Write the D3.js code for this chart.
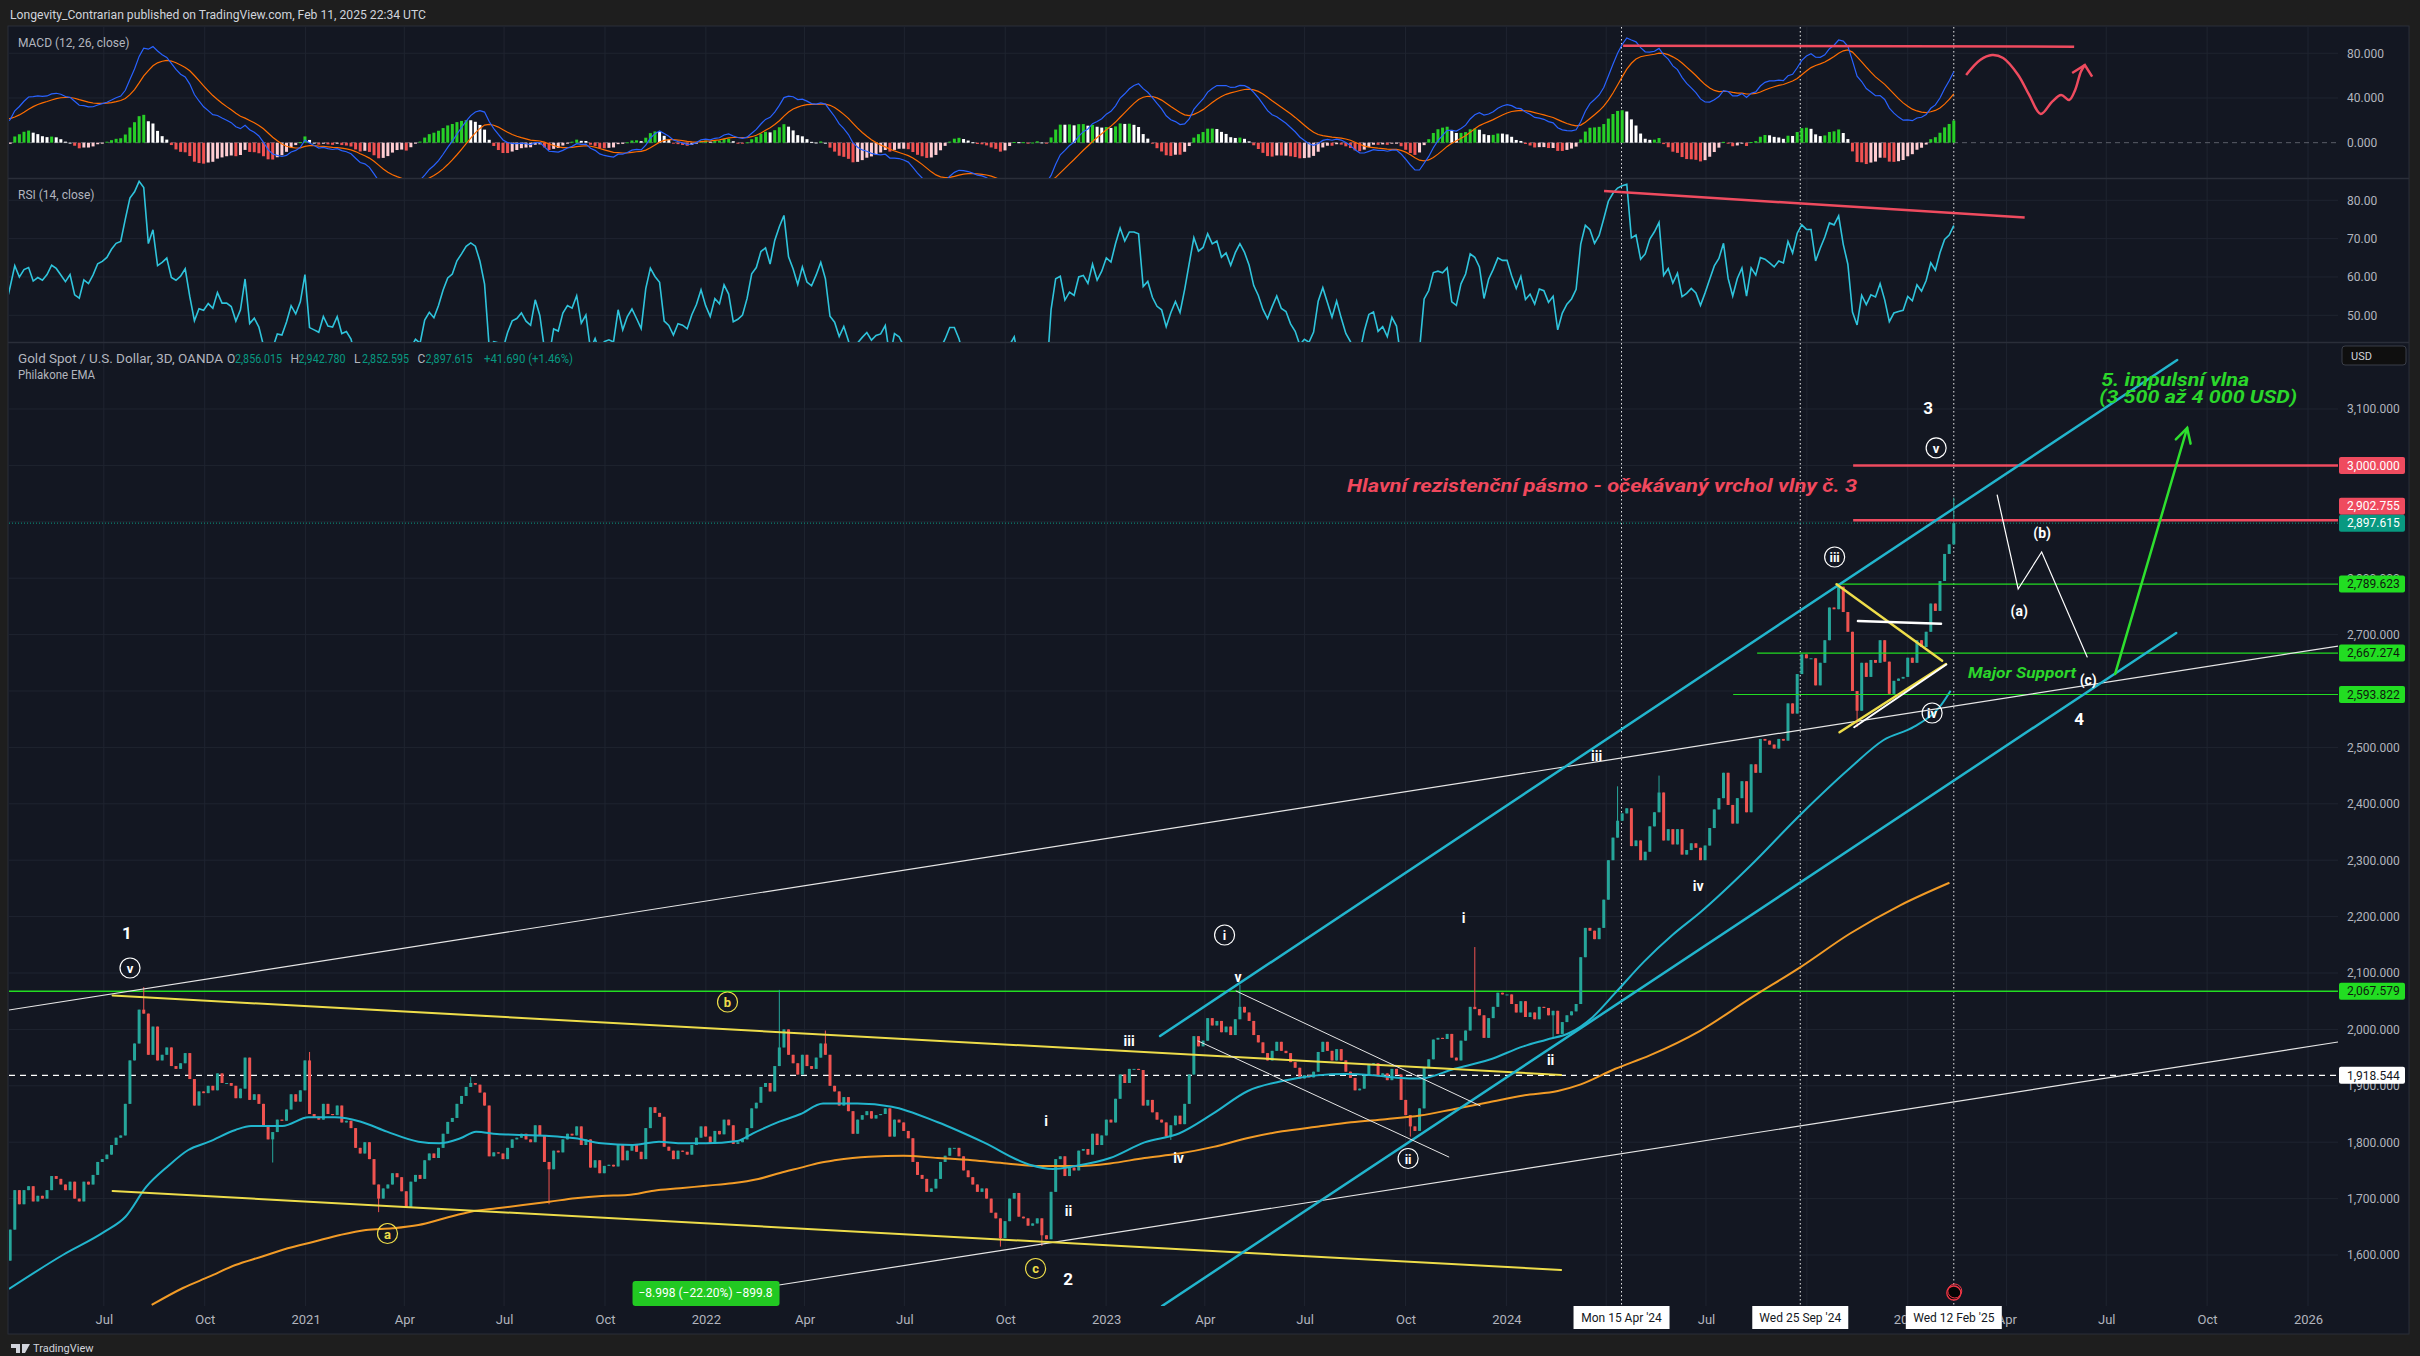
<!DOCTYPE html>
<html>
<head>
<meta charset="utf-8">
<title>XAUUSD 3D</title>
<script src="https://cdn.jsdelivr.net/npm/d3@7"></script>
<style>
  html, body { margin: 0; padding: 0; background: #1e1e1e; }
  svg { display: block; }
  text { font-family: Roboto, "Liberation Sans", sans-serif; }
</style>
</head>
<body>
<div id="chart"></div>
<script>
// ---------- data : XAUUSD 3D closes, one value per bar ----------
const close2019 = [1480,1505,1495,1490,1492,1505,1512, 1510,1462,1468,1470,1472,1460,1462, 1478,1462,1468,1475,1480,1500,1517];
const close2020 = [
  1552,1572,1550,1555,1560,1558,1578,1588,  1575,1568,1580,1600,1645,1640,1585,  1640,1672,1576,1520,1484,1630,1620,
  1590,1645,1715,1690,1715,1722,1695,  1705,1700,1715,1740,1735,1725,1715,1730,  1700,1695,1730,1725,1742,1765,1770,
  1778,1795,1808,1812,1868,1945,1975,  2035,2028,1955,2005,1945,1955,1968,  1935,1930,1940,1958,1912,1865,1890,1887,
  1900,1892,1922,1905,1905,1900,1878,  1895,1950,1875,1885,1868,1830,1805,  1818,1840,1838,1858,1885,1872,1892];
const close2021 = [
  1945,1850,1845,1840,1868,1850,1848,1865,  1835,1838,1825,1790,1780,1800,1770,  1725,1700,1718,1725,1745,1738,1713,
  1685,1730,1742,1735,1768,1780,1772,  1790,1815,1836,1843,1868,1882,1898,1905,  1902,1888,1865,1775,1782,1780,1770,
  1790,1805,1808,1815,1805,1800,1830,  1812,1765,1752,1785,1782,1805,1815,  1812,1828,1795,1805,1755,1768,1745,1758,
  1760,1757,1795,1768,1785,1795,1783,  1770,1825,1862,1852,1845,1792,1785,  1770,1785,1783,1778,1795,1808,1828];
const close2022 = [
  1810,1797,1820,1814,1840,1830,1797,1800,  1805,1825,1860,1870,1898,1905,1890,  1935,1968,2000,1955,1940,1920,1955,
  1935,1930,1950,1975,1955,1900,1890,  1865,1880,1855,1815,1840,1848,1855,1842,  1848,1850,1860,1810,1840,1835,1820,
  1807,1765,1742,1735,1712,1718,1735,  1765,1776,1790,1790,1775,1750,1738,  1725,1712,1718,1700,1675,1665,1630,1660,
  1700,1710,1668,1665,1652,1656,1665,  1635,1628,1712,1770,1775,1740,1755,  1750,1785,1788,1778,1815,1795,1812];
const close2023 = [
  1840,1835,1877,1920,1905,1930,1930,1928,  1865,1875,1853,1840,1835,1810,1830,  1847,1832,1868,1920,1988,1970,1980,
  2020,2007,2015,1995,2005,1990,2018,  2040,2030,2015,1990,1977,1958,1945,1962,  1978,1962,1958,1942,1932,1913,1919,
  1915,1925,1960,1978,1962,1945,1965,  1945,1925,1914,1892,1895,1918,1937,  1940,1917,1922,1910,1930,1920,1875,1848,
  1828,1820,1860,1932,1947,1982,1985,  1983,1992,1950,1945,1980,1998,2040,  2036,2025,1985,2020,2040,2065,2062];
const close2024 = [
  2062,2045,2030,2050,2022,2030,2018,2040,  2038,2025,2033,1992,2013,2025,2032,  2045,2128,2180,2175,2160,2180,2230,
  2300,2340,2370,2383,2392,2325,2335,  2300,2315,2360,2385,2420,2335,2355,2328,  2355,2310,2318,2330,2322,2300,2326,
  2357,2390,2410,2455,2398,2365,2410,  2440,2385,2470,2455,2515,2512,2505,  2498,2515,2512,2578,2560,2630,2665,2658,
  2658,2610,2650,2690,2748,2745,2785,  2740,2705,2600,2565,2650,2625,2655,  2650,2690,2652,2595,2618,2622,2625];
const close2025 = [2659,2650,2690,2678,2705,2755,2742,2795, 2843,2860,2897.615];

const wickHighs = [['2020-08-06',2075],['2021-01-06',1960],['2021-06-01',1916],['2022-03-08',2070],['2022-04-18',1998],
  ['2023-05-04',2079],['2023-12-04',2146],['2024-04-12',2431],['2024-05-20',2450],['2024-10-31',2790],['2025-02-11',2942.78]];
const wickLows = [['2020-11-30',1764],['2021-03-08',1676],['2021-08-09',1690],['2022-09-28',1615],['2022-11-03',1616],
  ['2023-02-28',1804],['2023-10-06',1810],['2024-02-14',1984],['2024-11-14',2536]];

// Philakone EMA lines (decimal year, price)
const emaFast = [[2020.2594,1539.8],[2020.3938,1600.0],[2020.4981,1641.4],[2020.5503,1667.9],[2020.6025,1721.1],[2020.6549,1756.6],
  [2020.7071,1786.2],[2020.7593,1800.9],[2020.8247,1821.7],[2020.8637,1828.7],[2020.9421,1828.7],[2021.0075,1844.2],[2021.0727,1844.2],
  [2021.1381,1836.4],[2021.2032,1818.7],[2021.2816,1801.0],[2021.3338,1798.1],[2021.3863,1806.9],[2021.4255,1818.7],[2021.4777,1814.6],
  [2021.5428,1812.9],[2021.6077,1811.1],[2021.6734,1806.9],[2021.7388,1798.1],[2021.8170,1795.1],[2021.8824,1801.0],[2021.9348,1798.1],
  [2021.9998,1798.1],[2022.0782,1802.2],[2022.1171,1815.8],[2022.1828,1836.4],[2022.2345,1849.5],[2022.2919,1868.5],[2022.3778,1868.5],
  [2022.4637,1863.0],[2022.5785,1835.3],[2022.6931,1799.7],[2022.8077,1760.1],[2022.8652,1752.5],[2022.9223,1757.8],[2023.0085,1772.0],
  [2023.0944,1799.7],[2023.1805,1815.5],[2023.2664,1851.1],[2023.3526,1890.8],[2023.4384,1908.5],[2023.5243,1918.5],[2023.5963,1921.0],
  [2023.6677,1918.5],[2023.7251,1914.4],[2023.7825,1912.8],[2023.8684,1930.2],[2023.9546,1946.1],[2024.0404,1969.9],[2024.0979,1981.8],
  [2024.1550,1993.6],[2024.2125,2021.3],[2024.2699,2064.7],[2024.3416,2120.2],[2024.4132,2167.8],[2024.4816,2207.3],[2024.6065,2289.7],
  [2024.7313,2380.2],[2024.8561,2463.5],[2024.9398,2513.1],[2025.0160,2536.7],[2025.0834,2575.2],[2025.1069,2600.6]];
const emaSlow = [[2020.6157,1511.4],[2020.6939,1541.5],[2020.7593,1561.6],[2020.8247,1582.3],[2020.8899,1597.0],[2020.9553,1611.9],
  [2021.0205,1623.6],[2021.0859,1635.5],[2021.1508,1644.4],[2021.2165,1647.4],[2021.2816,1653.2],[2021.3471,1665.1],[2021.4122,1676.8],
  [2021.4777,1682.8],[2021.5428,1688.7],[2021.6082,1694.5],[2021.6734,1700.6],[2021.7388,1704.6],[2021.8040,1706.4],[2021.8694,1714.1],
  [2021.9348,1718.3],[2021.9998,1722.9],[2022.0652,1727.2],[2022.1306,1734.8],[2022.1958,1747.7],[2022.2345,1754.5],[2022.2844,1763.7],
  [2022.3204,1767.9],[2022.4065,1774.3],[2022.4924,1775.9],[2022.5785,1772.0],[2022.6644,1767.9],[2022.7506,1762.4],[2022.8365,1757.8],
  [2022.9223,1757.8],[2023.0085,1762.4],[2023.0944,1772.0],[2023.1805,1779.8],[2023.2664,1791.7],[2023.3526,1807.5],[2023.4384,1819.4],
  [2023.5243,1827.4],[2023.6102,1835.3],[2023.6964,1840.8],[2023.7825,1847.2],[2023.8684,1858.9],[2023.9546,1871.0],[2024.0404,1882.9],
  [2024.1263,1890.8],[2024.1838,1902.5],[2024.2699,1930.2],[2024.3558,1953.9],[2024.4816,1997.5],[2024.6065,2055.0],[2024.7313,2110.0],
  [2024.8561,2170.0],[2024.9810,2220.0],[2025.1041,2260.0]];

// tick labels
const timeTicks = ['2020-07-01','2020-10-01','2021-01-01','2021-04-01','2021-07-01','2021-10-01','2022-01-01','2022-04-01',
  '2022-07-01','2022-10-01','2023-01-01','2023-04-01','2023-07-01','2023-10-01','2024-01-01','2024-04-01','2024-07-01',
  '2024-10-01','2025-01-01','2025-04-01','2025-07-01','2025-10-01','2026-01-01'];
const coveredTicks = ['2024-04-01','2024-10-01'];   // hidden under the crosshair date boxes
const priceTicks = [1600,1700,1800,1900,2000,2100,2200,2300,2400,2500,2600,2700,2800,2900,3000,3100];
const macdTicks = [80, 40, 0];
const rsiTicks = [80, 70, 60, 50];

// legend
const legendTitle = 'Gold Spot / U.S. Dollar, 3D, OANDA';
const legendOHLC = [['O','2,856.015'],['H','2,942.780'],['L','2,852.595'],['C','2,897.615']];
const legendChange = '+41.690 (+1.46%)';

// markers and levels
const markerDates = ['2024-04-15','2024-09-25','2025-02-12'];
const markerTexts = ["Mon 15 Apr '24","Wed 25 Sep '24","Wed 12 Feb '25"];
const lastClose = 2897.615;
const resistLevels = [3000, 2902.755];
const resistStart = 2024.8637;
const supportLevels = [2789.623, 2667.274, 2593.822];
const supportStarts = [2024.8212, 2024.6240, 2024.5641];
const keyLevel = 2067.579;
const dashedLevel = 1918.544;

// drawings (decimal year, price)
const trendUpper = [[2020.2594,2034.4],[2026.0747,2679.8]];
const trendLower = [[2022.1820,1546.8],[2026.0747,1977.7]];
const wedgeUpper = [[2020.5181,2060.1],[2024.1346,1919.2]];
const wedgeLower = [[2020.5181,1713.5],[2024.1346,1573.4]];
const channelUpper = [[2023.1333,1988.3],[2025.6727,3186.9]];
const channelLower = [[2023.1383,1509.6],[2025.6702,2702.8]];
const flagA = [[2023.3231,2068.1],[2023.9323,1864.6]];
const flagB = [[2023.2282,1979.5],[2023.8542,1773.8]];
const triUpper = [[2024.8222,2789.2],[2025.0859,2653.7]];
const triLowerY = [[2024.8297,2526.8],[2025.0954,2647.9]];
const triLowerW = [[2024.8662,2535.7],[2025.0964,2647.0]];
const triFlat = [[2024.8757,2724.1],[2025.0831,2719.3]];
const abcPath = [[2025.2233,2947.5],[2025.2757,2780.9],[2025.3344,2846.5],[2025.4480,2660.3]];
const wave5Arrow = [[2025.5178,2630.2],[2025.6976,3066.3]];

const degreeLabels = [['1',2020.5541,2171],['2',2022.9036,1557.5],['3',2025.0509,3101.8],['4',2025.4280,2550.4]];
const circleLabels = [['v',2020.5616,2108.9],['i',2023.2944,2167.4],['ii',2023.7526,1771.1],['iii',2024.8175,2837.6],
  ['iv',2025.0609,2561.0],['v',2025.0709,3030.9]];
const yellowLabels = [['a',2021.2045,1638.1],['b',2022.0534,2048.6],['c',2022.8225,1576.1]];
const plainLabels = [['i',2022.8487,1837.6],['ii',2022.9049,1678.1],['iii',2023.0559,1979.5],['iv',2023.1795,1772.0],
  ['v',2023.3281,2093.8],['i',2023.8911,2197.5],['ii',2024.1084,1945.8],['iii',2024.2232,2484.8],['iv',2024.4767,2254.3],
  ['(a)',2025.2783,2741.0],['(b)',2025.3357,2880.1],['(c)',2025.4505,2619.5]];

const resistNote = ['Hlavní rezistenční pásmo - očekávaný vrchol vlny č. 3', 2023.6003, 2952.8];
const wave5Notes = [['5. impulsní vlna', 2025.4829, 3140.8], ['(3 500 až 4 000 USD)', 2025.4779, 3110.6]];
const supportNote = ['Major Support', 2025.1508, 2623.1];
const rangeNote = ['\u22128.998 (\u221222.20%) \u2212899.8', 2021.9985, 1531.8];

const macdTopLine = [[2024.2894,86.8],[2025.4155,85.9]];
const macdSketch = [[2025.1458,60.6],[2025.1808,74.0],[2025.2107,78.5],[2025.2382,75.8],[2025.2757,60.6],[2025.3031,42.7],
  [2025.3321,25.7],[2025.3606,36.7],[2025.3830,42.7],[2025.4030,38.2],[2025.4180,47.2],[2025.4322,63.5],[2025.4422,69.5]];
const macdArrowHead = [[2025.4105,62.4],[2025.4422,69.5],[2025.4604,59.1]];
const rsiTopLine = [[2024.2419,82.4],[2025.2919,75.5]];

// ---------- constants ----------
const W = 2420, H = 1356;
const plotL = 9, plotR = 2338;
const macdTop = 27, macdBot = 178, rsiTop = 179, rsiBot = 342, priceTop = 343, priceBot = 1306;
const axisX = 2339;
const bg = '#131722', gridCol = '#1f2430', textCol = '#b2b5be';
const upCol = '#26a69a', downCol = '#ef5350';
const cyan = '#22b5cd', orange = '#f29b26', yellow = '#eedd4a', red = '#ef4b5f', lime = '#22dd22';

const parse = d3.utcParse('%Y-%m-%d');
const yr = t => new Date(Date.UTC(2021, 0, 1) + (t - 2021) * 365.25 * 864e5);

// ---------- bars + indicators ----------
const closes = [].concat(close2019, close2020, close2021, close2022, close2023, close2024, close2025);
const lastBar = Date.UTC(2025, 1, 12);
const barStep = 4.2 * 864e5;
const bars = closes.map((c, i) => {
  const o = i ? closes[i - 1] : c;
  return {date: new Date(lastBar - (closes.length - 1 - i) * barStep), o: o, c: c, h: Math.max(o, c), l: Math.min(o, c)};
});
const nearest = d => d3.least(bars, b => Math.abs(b.date - d));
wickHighs.forEach(([d, v]) => { const b = nearest(parse(d)); b.h = Math.max(b.h, v); });
wickLows.forEach(([d, v]) => { const b = nearest(parse(d)); b.l = Math.min(b.l, v); });

function ema(src, n) {
  const k = 2 / (n + 1), out = [];
  src.forEach((v, i) => out.push(i === 0 ? v : v * k + out[i - 1] * (1 - k)));
  return out;
}
const fast = ema(closes, 12), slow = ema(closes, 26);
const macd = closes.map((c, i) => fast[i] - slow[i]);
const signal = ema(macd, 9);
const hist = macd.map((m, i) => m - signal[i]);

function rsi(src, n) {
  const out = [NaN];
  let ag = 0, al = 0;
  for (let i = 1; i < src.length; i++) {
    const ch = src[i] - src[i - 1];
    const g = Math.max(ch, 0), l = Math.max(-ch, 0);
    if (i <= n) { ag += g / n; al += l / n; }
    else { ag = (ag * (n - 1) + g) / n; al = (al * (n - 1) + l) / n; }
    out.push(i < n ? NaN : (al === 0 ? 100 : 100 - 100 / (1 + ag / al)));
  }
  return out;
}
const rsiVals = rsi(closes, 14);

// ---------- scales ----------
const x = d3.scaleUtc().domain([new Date(Date.UTC(2021, 0, 1)), new Date(Date.UTC(2026, 0, 1))]).range([305.6, 2308]);
const yPrice = d3.scaleLinear().domain([1509.6, 3217]).range([priceBot, priceTop]);
const yMacd = d3.scaleLinear().domain([-31.6, 103.5]).range([macdBot, macdTop]);
const yRsi = d3.scaleLinear().domain([43.03, 85.56]).range([rsiBot, rsiTop]);

// ---------- svg ----------
const svg = d3.select('#chart').append('svg').attr('width', W).attr('height', H);
svg.append('rect').attr('width', W).attr('height', H).attr('fill', '#1e1e1e');
svg.append('rect').attr('x', 8).attr('y', 26).attr('width', 2401).attr('height', 1308)
  .attr('fill', bg).attr('stroke', '#2a2e39');

svg.append('text').attr('x', 10).attr('y', 19).attr('fill', '#d1d4dc').style('font-size', '12px')
  .attr('textLength', 416).attr('lengthAdjust', 'spacingAndGlyphs')
  .text('Longevity_Contrarian published on TradingView.com, Feb 11, 2025 22:34 UTC');

const defs = svg.append('defs');
[['clipMacd', macdTop, macdBot], ['clipRsi', rsiTop, rsiBot], ['clipPrice', priceTop, priceBot]].forEach(([id, t, b]) => {
  defs.append('clipPath').attr('id', id).append('rect')
    .attr('x', plotL).attr('y', t).attr('width', plotR - plotL).attr('height', b - t);
});

// grid
const grid = svg.append('g');
timeTicks.forEach(d => {
  grid.append('line').attr('x1', x(parse(d))).attr('x2', x(parse(d))).attr('y1', macdTop).attr('y2', priceBot)
    .attr('stroke', gridCol);
});
priceTicks.forEach(p => grid.append('line').attr('x1', plotL).attr('x2', plotR)
  .attr('y1', yPrice(p)).attr('y2', yPrice(p)).attr('stroke', gridCol));
macdTicks.filter(v => v !== 0).forEach(v => grid.append('line').attr('x1', plotL).attr('x2', plotR)
  .attr('y1', yMacd(v)).attr('y2', yMacd(v)).attr('stroke', gridCol));
rsiTicks.forEach(v => grid.append('line').attr('x1', plotL).attr('x2', plotR)
  .attr('y1', yRsi(v)).attr('y2', yRsi(v)).attr('stroke', gridCol));
[macdBot + 0.5, rsiBot + 0.5].forEach(y => svg.append('line').attr('x1', 8).attr('x2', 2409)
  .attr('y1', y).attr('y2', y).attr('stroke', '#2a2e39').attr('stroke-width', 1.5));

// vertical date markers
markerDates.forEach(d => {
  svg.append('line').attr('x1', x(parse(d))).attr('x2', x(parse(d))).attr('y1', macdTop).attr('y2', priceBot)
    .attr('stroke', '#e8e8e8').attr('stroke-dasharray', '1.5,2.5');
});

// ---------- MACD pane ----------
const gM = svg.append('g').attr('clip-path', 'url(#clipMacd)');
gM.append('line').attr('x1', plotL).attr('x2', plotR).attr('y1', yMacd(0)).attr('y2', yMacd(0))
  .attr('stroke', '#787b86').attr('stroke-dasharray', '5,4').attr('stroke-opacity', 0.7);
gM.selectAll('rect.h').data(bars).join('rect')
  .attr('x', d => x(d.date) - 1.5).attr('width', 3)
  .attr('y', (d, i) => Math.min(yMacd(0), yMacd(hist[i])))
  .attr('height', (d, i) => Math.max(1, Math.abs(yMacd(hist[i]) - yMacd(0))))
  .attr('fill', (d, i) => {
    const h = hist[i], p = i ? hist[i - 1] : h;
    if (h >= 0) return p < h ? '#27cf27' : '#ffffff';
    return p < h ? '#ffcdd2' : '#f05252';
  });
const lineM = arr => d3.line().x((d, i) => x(bars[i].date)).y(d => yMacd(d))(arr);
gM.append('path').attr('d', lineM(signal)).attr('fill', 'none').attr('stroke', '#ff6d00').attr('stroke-width', 1.2);
gM.append('path').attr('d', lineM(macd)).attr('fill', 'none').attr('stroke', '#2962ff').attr('stroke-width', 1.2);
const macdPt = d3.line().x(d => x(yr(d[0]))).y(d => yMacd(d[1]));
gM.append('path').attr('d', macdPt(macdTopLine)).attr('stroke', red).attr('stroke-width', 2.5).attr('fill', 'none');
gM.append('path').attr('d', d3.line().x(d => x(yr(d[0]))).y(d => yMacd(d[1])).curve(d3.curveCatmullRom)(macdSketch))
  .attr('stroke', red).attr('stroke-width', 2.5).attr('fill', 'none');
gM.append('path').attr('d', macdPt(macdArrowHead))
  .attr('stroke', red).attr('stroke-width', 2.5).attr('fill', 'none');
svg.append('text').attr('x', 18).attr('y', 47).attr('fill', textCol).style('font-size', '12px').text('MACD (12, 26, close)');

// ---------- RSI pane ----------
const gR = svg.append('g').attr('clip-path', 'url(#clipRsi)');
gR.append('path')
  .attr('d', d3.line().defined((d, i) => !isNaN(rsiVals[i])).x(d => x(d.date)).y((d, i) => yRsi(rsiVals[i]))(bars))
  .attr('fill', 'none').attr('stroke', '#2fc4dc').attr('stroke-width', 1.6);
gR.append('path').attr('d', d3.line().x(d => x(yr(d[0]))).y(d => yRsi(d[1]))(rsiTopLine))
  .attr('stroke', red).attr('stroke-width', 2.5).attr('fill', 'none');
svg.append('text').attr('x', 18).attr('y', 199).attr('fill', textCol).style('font-size', '12px').text('RSI (14, close)');

// ---------- price pane ----------
const gP = svg.append('g').attr('clip-path', 'url(#clipPrice)');
const ptLine = d3.line().x(d => x(yr(d[0]))).y(d => yPrice(d[1]));
const hLine = (p, t0, col, w, dash) => gP.append('line')
  .attr('x1', t0 == null ? plotL : x(yr(t0))).attr('x2', plotR).attr('y1', yPrice(p)).attr('y2', yPrice(p))
  .attr('stroke', col).attr('stroke-width', w).attr('stroke-dasharray', dash || null);

hLine(keyLevel, null, lime, 1.6);
hLine(dashedLevel, null, '#ffffff', 1.2, '6,5');
hLine(lastClose, null, '#089981', 1, '1,2');

// candles
const candles = gP.selectAll('g.c').data(bars).join('g');
candles.append('line').attr('x1', d => x(d.date)).attr('x2', d => x(d.date))
  .attr('y1', d => yPrice(d.h)).attr('y2', d => yPrice(d.l))
  .attr('stroke', d => d.c >= d.o ? upCol : downCol).attr('stroke-width', 1);
candles.append('rect').attr('x', d => x(d.date) - 1.5).attr('width', 3)
  .attr('y', d => yPrice(Math.max(d.o, d.c)))
  .attr('height', d => Math.max(1, Math.abs(yPrice(d.o) - yPrice(d.c))))
  .attr('fill', d => d.c >= d.o ? upCol : downCol);

// EMAs
const emaLine = d3.line().x(d => x(yr(d[0]))).y(d => yPrice(d[1])).curve(d3.curveMonotoneX);
gP.append('path').attr('d', emaLine(emaSlow)).attr('fill', 'none').attr('stroke', orange).attr('stroke-width', 2);
gP.append('path').attr('d', emaLine(emaFast)).attr('fill', 'none').attr('stroke', cyan).attr('stroke-width', 2);

// levels
resistLevels.forEach(p => hLine(p, resistStart, red, 2.5));
supportLevels.forEach((p, i) => hLine(p, supportStarts[i], lime, 1.2));

// drawings
const seg = (pts, col, w) => gP.append('path').attr('d', ptLine(pts)).attr('fill', 'none')
  .attr('stroke', col).attr('stroke-width', w).attr('stroke-linecap', 'round');
seg(trendUpper, '#e6e6e6', 1.2);
seg(trendLower, '#e6e6e6', 1.2);
seg(wedgeUpper, yellow, 2);
seg(wedgeLower, yellow, 2);
seg(channelUpper, cyan, 2.5);
seg(channelLower, cyan, 2.5);
seg(flagA, '#e6e6e6', 1);
seg(flagB, '#e6e6e6', 1);
seg(triUpper, yellow, 2.5);
seg(triLowerY, yellow, 2.5);
seg(triLowerW, '#ffffff', 2);
seg(triFlat, '#ffffff', 2.5);
seg(abcPath, '#ffffff', 1.2);
seg(wave5Arrow, '#2ee02e', 2.5);
// arrow head on the wave-5 arrow
(() => {
  const [a, b] = wave5Arrow;
  const x1 = x(yr(a[0])), y1 = yPrice(a[1]), x2 = x(yr(b[0])), y2 = yPrice(b[1]);
  const ang = Math.atan2(y2 - y1, x2 - x1), L = 16, s = 0.5;
  gP.append('path')
    .attr('d', `M${x2 - L * Math.cos(ang - s)},${y2 - L * Math.sin(ang - s)}L${x2},${y2}L${x2 - L * Math.cos(ang + s)},${y2 - L * Math.sin(ang + s)}`)
    .attr('fill', 'none').attr('stroke', '#2ee02e').attr('stroke-width', 2.5).attr('stroke-linecap', 'round');
})();

// wave labels
degreeLabels.forEach(([t, tx, p]) => gP.append('text').attr('x', x(yr(tx))).attr('y', yPrice(p))
  .attr('text-anchor', 'middle').attr('dominant-baseline', 'central').attr('fill', '#ffffff')
  .style('font-size', '17px').style('font-weight', 'bold').text(t));
plainLabels.forEach(([t, tx, p]) => gP.append('text').attr('x', x(yr(tx))).attr('y', yPrice(p))
  .attr('text-anchor', 'middle').attr('dominant-baseline', 'central').attr('fill', '#ffffff')
  .style('font-size', '14px').style('font-weight', 'bold').text(t));
const circled = (list, col) => list.forEach(([t, tx, p]) => {
  const cx = x(yr(tx)), cy = yPrice(p);
  gP.append('circle').attr('cx', cx).attr('cy', cy).attr('r', 10).attr('fill', 'none').attr('stroke', col).attr('stroke-width', 1.2);
  gP.append('text').attr('x', cx).attr('y', cy + 0.5).attr('text-anchor', 'middle').attr('dominant-baseline', 'central')
    .attr('fill', col).style('font-size', '13px').style('font-weight', 'bold').text(t);
});
circled(circleLabels, '#ffffff');
circled(yellowLabels, yellow);

// notes
gP.append('text').attr('x', x(yr(resistNote[1]))).attr('y', yPrice(resistNote[2])).attr('fill', '#f0485d')
  .style('font-size', '19px').style('font-weight', 'bold').style('font-style', 'italic')
  .attr('textLength', 510).attr('lengthAdjust', 'spacingAndGlyphs').text(resistNote[0]);
wave5Notes.forEach(([t, tx, p], i) => gP.append('text').attr('x', x(yr(tx))).attr('y', yPrice(p)).attr('fill', '#2bd62b')
  .style('font-size', '18px').style('font-weight', 'bold').style('font-style', 'italic')
  .attr('textLength', i ? 198 : 148).attr('lengthAdjust', 'spacingAndGlyphs').text(t));
gP.append('text').attr('x', x(yr(supportNote[1]))).attr('y', yPrice(supportNote[2])).attr('fill', '#2bd62b')
  .style('font-size', '15px').style('font-weight', 'bold').style('font-style', 'italic')
  .attr('textLength', 108).attr('lengthAdjust', 'spacingAndGlyphs').text(supportNote[0]);
(() => {
  const cx = x(yr(rangeNote[1])), cy = yPrice(rangeNote[2]);
  gP.append('rect').attr('x', cx - 73).attr('y', cy - 12.5).attr('width', 147).attr('height', 25).attr('rx', 3).attr('fill', '#22c922');
  gP.append('text').attr('x', cx).attr('y', cy + 4).attr('text-anchor', 'middle').attr('fill', '#ffffff')
    .style('font-size', '12px').text(rangeNote[0]);
})();

// legend
const legend = svg.append('g').style('font-size', '12px');
legend.append('text').attr('x', 18).attr('y', 363).attr('fill', textCol)
  .attr('textLength', 205).attr('lengthAdjust', 'spacingAndGlyphs').text(legendTitle);
legendOHLC.forEach(([k, v], i) => {
  const gx = 227 + i * 63.5;
  legend.append('text').attr('x', gx).attr('y', 363).attr('fill', textCol).text(k);
  legend.append('text').attr('x', gx + 8).attr('y', 363).attr('fill', '#089981')
    .attr('textLength', 47).attr('lengthAdjust', 'spacingAndGlyphs').text(v);
});
legend.append('text').attr('x', 484).attr('y', 363).attr('fill', '#089981')
  .attr('textLength', 89).attr('lengthAdjust', 'spacingAndGlyphs').text(legendChange);
legend.append('text').attr('x', 18).attr('y', 379).attr('fill', textCol)
  .attr('textLength', 77).attr('lengthAdjust', 'spacingAndGlyphs').text('Philakone EMA');

// ---------- axes ----------
const styleAxis = g => {
  g.select('.domain').remove();
  g.selectAll('text').attr('fill', textCol).style('font-size', '12px').style('font-family', 'Roboto, sans-serif');
};
svg.append('g').attr('transform', `translate(${axisX},0)`)
  .call(d3.axisRight(yPrice).tickValues(priceTicks).tickFormat(d3.format(',.3f')).tickSize(0).tickPadding(8)).call(styleAxis);
svg.append('g').attr('transform', `translate(${axisX},0)`)
  .call(d3.axisRight(yMacd).tickValues(macdTicks).tickFormat(d3.format('.3f')).tickSize(0).tickPadding(8)).call(styleAxis);
svg.append('g').attr('transform', `translate(${axisX},0)`)
  .call(d3.axisRight(yRsi).tickValues(rsiTicks).tickFormat(d3.format('.2f')).tickSize(0).tickPadding(8)).call(styleAxis);

// price label boxes
const yLast = yPrice(lastClose);
const boxes = [];
resistLevels.forEach(v => boxes.push([v, red, '#ffffff']));
boxes.push([lastClose, '#089981', '#ffffff']);
supportLevels.concat([keyLevel]).forEach(v => boxes.push([v, lime, '#0e1a0e']));
boxes.push([dashedLevel, '#ffffff', '#131722']);
boxes.forEach(([v, fill, tc]) => {
  let cy = yPrice(v);
  if (v !== lastClose && Math.abs(cy - yLast) < 17) cy = cy <= yLast ? yLast - 17 : yLast + 17;
  svg.append('rect').attr('x', axisX).attr('y', cy - 8.5).attr('width', 66).attr('height', 17).attr('rx', 2).attr('fill', fill);
  svg.append('text').attr('x', axisX + 8).attr('y', cy + 4.2).attr('fill', tc).style('font-size', '12px')
    .text(d3.format(',.3f')(v));
});
svg.append('rect').attr('x', 2342).attr('y', 346).attr('width', 64).attr('height', 19).attr('rx', 3)
  .attr('fill', '#0f0f0f').attr('stroke', '#3a3e48');
svg.append('text').attr('x', 2351).attr('y', 360).attr('fill', '#d1d4dc').style('font-size', '11px').text('USD');

// time axis (labels under the date boxes are hidden, the 2025 label is cut by the last box)
const monthFmt = d3.utcFormat('%b');
defs.append('clipPath').attr('id', 'clipTime').append('rect')
  .attr('x', plotL).attr('y', priceBot).attr('width', x(parse(markerDates[2])) - 48 - plotL).attr('height', 28);
defs.append('clipPath').attr('id', 'clipTime2').append('rect')
  .attr('x', x(parse(markerDates[2])) + 48).attr('y', priceBot).attr('width', plotR - x(parse(markerDates[2])) - 48).attr('height', 28);
const shownTicks = timeTicks.filter(d => !coveredTicks.includes(d)).map(parse);
const tAxis = d3.axisBottom(x)
  .tickFormat(d => d.getUTCMonth() === 0 ? String(d.getUTCFullYear()) : monthFmt(d)).tickSize(0).tickPadding(9);
const splitAt = x(parse(markerDates[2]));
[['clipTime', shownTicks.filter(d => x(d) < splitAt)], ['clipTime2', shownTicks.filter(d => x(d) >= splitAt)]].forEach(([cid, ticks]) => {
  svg.append('g').attr('clip-path', `url(#${cid})`).append('g').attr('transform', `translate(0,${priceBot})`)
    .call(tAxis.tickValues(ticks))
    .call(g => {
      g.select('.domain').remove();
      g.selectAll('text').attr('fill', textCol).style('font-size', '13px');
    });
});

// event marker
(() => {
  const cx = x(parse(markerDates[2]));
  svg.append('circle').attr('cx', cx).attr('cy', 1293).attr('r', 7).attr('fill', '#050505').attr('stroke', '#f23645').attr('stroke-width', 1.3);
  svg.append('circle').attr('cx', cx + 1).attr('cy', 1291).attr('r', 7).attr('fill', 'none').attr('stroke', '#f23645').attr('stroke-width', 1);
})();

markerDates.forEach((d, i) => {
  const cx = x(parse(d));
  svg.append('rect').attr('x', cx - 48).attr('y', priceBot).attr('width', 96).attr('height', 23).attr('fill', '#ffffff');
  svg.append('text').attr('x', cx).attr('y', priceBot + 16).attr('text-anchor', 'middle').attr('fill', '#131722')
    .style('font-size', '12px').text(markerTexts[i]);
});

// footer logo
svg.append('path').attr('d', 'M11,1344h9v9h-4v-5h-5zM22,1344h8l-5,9h-3z').attr('fill', '#d1d4dc');
svg.append('text').attr('x', 33).attr('y', 1352).attr('fill', '#d1d4dc').style('font-size', '11px').text('TradingView');
</script>
</body>
</html>
